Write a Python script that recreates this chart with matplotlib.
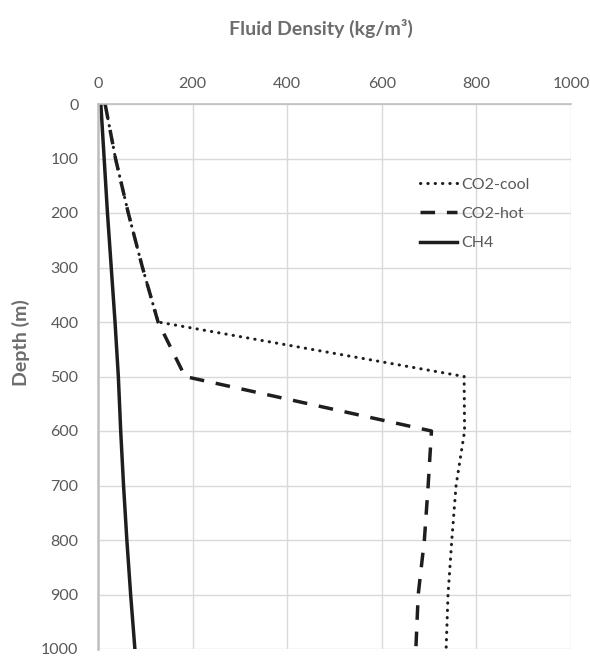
import matplotlib
matplotlib.use("Agg")
import matplotlib.pyplot as plt

depth = [0, 100, 200, 300, 400, 500, 600, 700, 800, 900, 1000]
co2_cool = [15, 37, 64, 94, 127, 774, 775, 757, 748, 740, 736]
co2_hot = [15, 37, 64, 94, 127, 184, 705, 698, 690, 677, 672]
ch4 = [6, 13, 20, 28, 36, 43, 48, 54, 61, 69, 78]

x_ticks = [0, 200, 400, 600, 800, 1000]
y_ticks = [0, 100, 200, 300, 400, 500, 600, 700, 800, 900, 1000]

plt.rcParams['font.family'] = ['Lato', 'DejaVu Sans']

W, H = 590, 657
fig = plt.figure(figsize=(W / 100, H / 100), dpi=100)
ax = fig.add_axes([98 / W, 1 - 649 / H, (571 - 98) / W, (649 - 104) / H])

line_col = '#1e1e1e'
ax.plot(co2_cool, depth, color=line_col, lw=2.2, linestyle=(0, (0.1, 2.3)),
        dash_capstyle='round', label='CO2-cool')
ax.plot(co2_hot, depth, color=line_col, lw=2.5, linestyle=(0, (4.2, 3.4)),
        label='CO2-hot')
ax.plot(ch4, depth, color=line_col, lw=2.5, linestyle='-', label='CH4')

ax.set_xlim(0, 1000)
ax.set_ylim(1000, 0)
ax.set_xticks(x_ticks)
ax.set_yticks(y_ticks)
ax.xaxis.tick_top()
ax.grid(True, color='#d9d9d9', lw=1.0)
ax.set_axisbelow(True)
for s in ['right', 'bottom']:
    ax.spines[s].set_visible(False)
ax.spines['left'].set_color('#bfbfbf')
ax.spines['left'].set_linewidth(1.8)
ax.spines['top'].set_color('#bfbfbf')
ax.spines['top'].set_linewidth(1.2)
ax.tick_params(axis='both', length=0, labelsize=11.5, colors='#595959', pad=9)
ax.tick_params(axis='y', pad=14)

fig.text(321 / W, 1 - 28 / H, 'Fluid Density (kg/m³)', ha='center', va='center',
         fontsize=14, fontweight='bold', color='#6d6d6d')
fig.text(21 / W, 1 - 343 / H, 'Depth (m)', ha='center', va='center', rotation=90,
         fontsize=14, fontweight='bold', color='#6d6d6d')

leg = ax.legend(loc='upper left', bbox_to_anchor=(406 / W, 1 - 163 / H),
                bbox_transform=fig.transFigure, frameon=False, fontsize=11.5,
                handlelength=2.3, handletextpad=0.25, labelspacing=0.95,
                labelcolor='#595959')

fig.savefig('out.png', dpi=100)
